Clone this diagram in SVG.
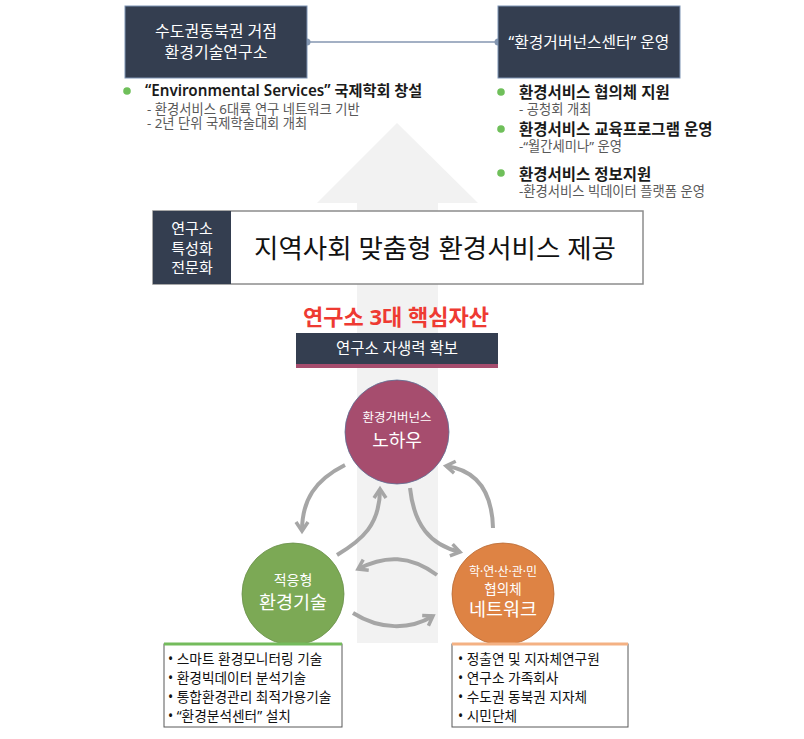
<svg xmlns="http://www.w3.org/2000/svg" width="804" height="739" viewBox="0 0 804 739">
<style>
text{font-family:"Noto Sans","Noto Sans CJK KR",sans-serif}
.w{fill:#ffffff}
.c{text-anchor:middle}
.dk{fill:#343e50;stroke:#7d93b4;stroke-width:1}
.b{font-size:15.5px;font-weight:bold;fill:#1a1a1a}
.s{font-size:13.3px;font-weight:normal;fill:#595959}
.li{font-size:13.7px;fill:#111111}
.arr{fill:none;stroke:#a6a6a6;stroke-width:4;stroke-linecap:butt;marker-end:url(#ah)}
.dot{fill:#6fbf5a}
</style>
<defs>
<marker id="ah" markerUnits="userSpaceOnUse" markerWidth="16" markerHeight="16" viewBox="0 0 16 16" refX="12" refY="8" orient="auto">
<path d="M3,2 L12,8 L3,14" fill="none" stroke="#a6a6a6" stroke-width="3.5"/>
</marker>
</defs>
<rect width="804" height="739" fill="#ffffff"/>
<g id="bigArrow">
<polygon points="397,123 478,203 438,203 438,643 357,643 357,203 317,203" fill="#f2f2f2"/>
</g>
<g id="connectors">
<line x1="307" y1="42" x2="498" y2="42" stroke="#8496b0" stroke-width="1.5"/>
<circle cx="307" cy="42" r="3.5" fill="#8496b0"/>
<circle cx="498" cy="42" r="3.5" fill="#8496b0"/>
<path class="arr" d="M345,465 C315,480 302,500 302,531"/>
<path class="arr" d="M337,555 C362,540 380,525 380,489"/>
<path class="arr" d="M410,488 C414,525 430,545 460,552"/>
<path class="arr" d="M493,528 C492,490 475,470 446,466"/>
<path class="arr" d="M437,575 C410,555 385,555 358,569"/>
<path class="arr" d="M353,613 C380,630 410,630 433,616"/>
</g>
<g id="hubLeft">
<rect class="dk" x="125" y="6" width="182" height="72"/>
<text class="w c" x="216" y="37" font-size="16">수도권동북권 거점</text>
<text class="w c" x="216" y="58" font-size="16">환경기술연구소</text>
</g>
<g id="hubRight">
<rect class="dk" x="498" y="6" width="182" height="72"/>
<text class="w c" x="589" y="48" font-size="15.8">“환경거버넌스센터” 운영</text>
</g>
<g id="leftBullets">
<circle class="dot" cx="127" cy="91" r="3.8"/>
<text x="145" y="96"><tspan font-size="15.2" font-weight="600" fill="#1a1a1a">“Environmental Services” 국제학회 창설</tspan><tspan class="s" x="147" y="114">- 환경서비스 6대륙 연구 네트워크 기반</tspan><tspan class="s" x="147" y="128">- 2년 단위 국제학술대회 개최</tspan></text>
</g>
<g id="rightBullets">
<circle class="dot" cx="501" cy="92" r="3.8"/>
<circle class="dot" cx="501" cy="129" r="3.8"/>
<circle class="dot" cx="501" cy="173" r="3.8"/>
<text x="519" y="98"><tspan class="b">환경서비스 협의체 지원</tspan><tspan class="s" x="519" y="114">- 공청회 개최</tspan><tspan class="b" x="519" y="135">환경서비스 교육프로그램 운영</tspan><tspan class="s" x="519" y="151">-“월간세미나” 운영</tspan><tspan class="b" x="519" y="180">환경서비스 정보지원</tspan><tspan class="s" x="519" y="196">-환경서비스 빅데이터 플랫폼 운영</tspan></text>
</g>
<g id="banner">
<rect x="153" y="211" width="490" height="73" fill="#ffffff" stroke="#8c8c8c" stroke-width="1.5"/>
<rect x="153" y="211" width="78" height="73" fill="#343e50"/>
<text class="w c" x="192" y="234" font-size="15">연구소</text>
<text class="w c" x="192" y="254" font-size="15">특성화</text>
<text class="w c" x="192" y="273" font-size="15">전문화</text>
<text class="c" x="435" y="258" font-size="26.5" fill="#111111">지역사회 맞춤형 환경서비스 제공</text>
</g>
<g id="title">
<text class="c" x="396" y="325" font-size="22" font-weight="bold" fill="#ee3a32">연구소 3대 핵심자산</text>
</g>
<g id="bar">
<rect x="296" y="333" width="202" height="31" fill="#343e50"/>
<rect x="296" y="364" width="202" height="4" fill="#a64d6e"/>
<text class="w c" x="397" y="354" font-size="15.5">연구소 자생력 확보</text>
</g>
<g id="knowhow">
<circle cx="397" cy="432" r="52" fill="#a64d6e" stroke="#5d6f94" stroke-width="0.8"/>
<text class="w c" x="397" y="422" font-size="12.5">환경거버넌스</text>
<text class="w c" x="397" y="447" font-size="18">노하우</text>
</g>
<g id="tech">
<circle cx="293" cy="594" r="51" fill="#7ca955" stroke="#6a8f4a" stroke-width="0.8"/>
<text class="w c" x="293" y="585" font-size="14">적응형</text>
<text class="w c" x="293" y="609" font-size="18.5">환경기술</text>
</g>
<g id="network">
<circle cx="503" cy="594" r="51" fill="#de8344" stroke="#b86a35" stroke-width="0.8"/>
<text class="w c" x="503" y="576" font-size="12">학·연·산·관·민</text>
<text class="w c" x="503" y="594" font-size="13.5">협의체</text>
<text class="w c" x="503" y="616" font-size="18.5">네트워크</text>
</g>
<g id="techList">
<rect x="164" y="644" width="178" height="83" fill="#ffffff" stroke="#595959" stroke-width="1"/>
<line x1="164" y1="644" x2="342" y2="644" stroke="#74bb5c" stroke-width="3"/>
<text class="li" x="168" y="664">• 스마트 환경모니터링 기술</text>
<text class="li" x="168" y="683">• 환경빅데이터 분석기술</text>
<text class="li" x="168" y="702">• 통합환경관리 최적가용기술</text>
<text class="li" x="168" y="721">• “환경분석센터” 설치</text>
</g>
<g id="networkList">
<rect x="452" y="644" width="176" height="83" fill="#ffffff" stroke="#595959" stroke-width="1"/>
<line x1="452" y1="644" x2="628" y2="644" stroke="#f4b183" stroke-width="3"/>
<text class="li" x="458" y="664">• 정출연 및 지자체연구원</text>
<text class="li" x="458" y="683">• 연구소 가족회사</text>
<text class="li" x="458" y="702">• 수도권 동북권 지자체</text>
<text class="li" x="458" y="721">• 시민단체</text>
</g>
</svg>
